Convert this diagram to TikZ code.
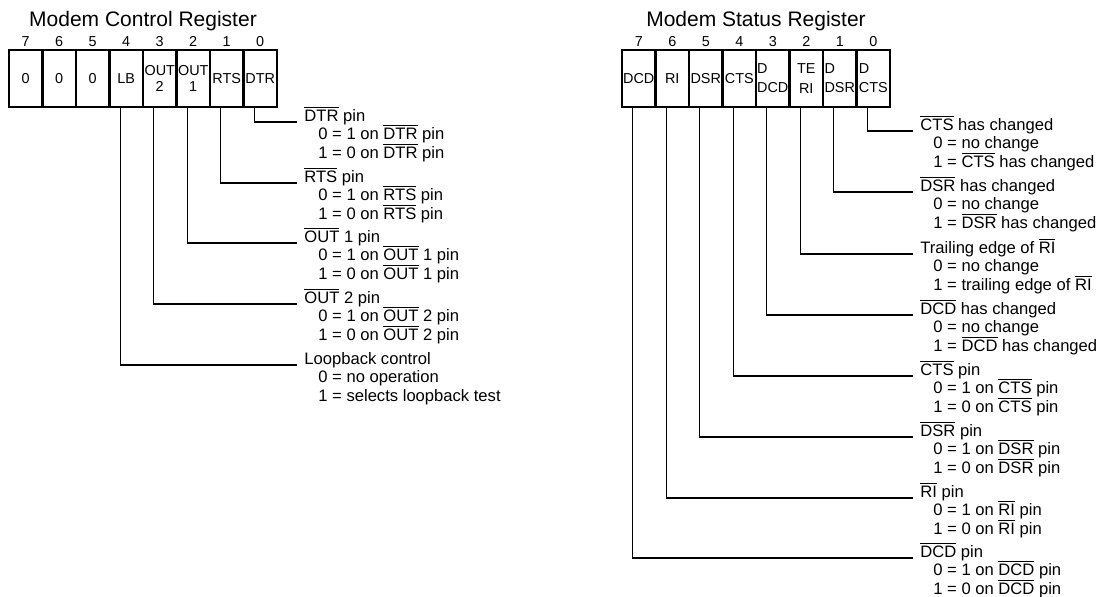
\documentclass[tikz,border=0pt]{standalone}
\usepackage{fontspec}
\setmainfont{Liberation Sans}
\usetikzlibrary{positioning}
\newcommand{\ovl}[1]{$\overline{\mbox{#1}}$}

\tikzset{
  cell/.style={draw, line width=1.3pt, minimum width=16.75pt, minimum height=28.5pt,
    inner sep=0.5pt, outer sep=0pt, align=center, font=\fontsize{7.2}{7.6}\selectfont},
  dcell/.style={cell, align=left, font=\fontsize{7.2}{9.6}\selectfont},
  bitno/.style={inner sep=0pt, font=\fontsize{7.2}{8}\selectfont},
  regtitle/.style={inner sep=0pt, font=\fontsize{10.5}{12}\selectfont},
  head/.style={inner xsep=3.5pt, inner ysep=0pt, font=\fontsize{8.3}{10}\selectfont},
  lead/.style={line width=0.55pt},
}

\begin{document}
\begin{tikzpicture}[x=0.5pt, y=-0.5pt]
\useasboundingbox (0,0) rectangle (1113,597);

% modem control register
\node[cell, anchor=north west] (m7) at (9,50) {0};
\node[cell, right=0pt of m7] (m6) {0};
\node[cell, right=0pt of m6] (m5) {0};
\node[cell, right=0pt of m5] (m4) {LB};
\node[cell, right=0pt of m4] (m3) {OUT\\2};
\node[cell, right=0pt of m3] (m2) {OUT\\1};
\node[cell, right=0pt of m2] (m1) {RTS};
\node[cell, right=0pt of m1] (m0) {DTR};
\foreach \i in {0,...,7}
  \node[bitno, above=1.5pt of m\i] (mb\i) {\i};
\node[regtitle, above=9.5pt of m4.north east] (mcr) {Modem Control Register};

\foreach \bit/\yy/\hd/\za/\zb in {
  0/122/{\ovl{DTR} pin}/{0 = 1 on \ovl{DTR} pin}/{1 = 0 on \ovl{DTR} pin},
  1/183/{\ovl{RTS} pin}/{0 = 1 on \ovl{RTS} pin}/{1 = 0 on \ovl{RTS} pin},
  2/243/{\ovl{OUT} 1 pin}/{0 = 1 on \ovl{OUT} 1 pin}/{1 = 0 on \ovl{OUT} 1 pin},
  3/304/{\ovl{OUT} 2 pin}/{0 = 1 on \ovl{OUT} 2 pin}/{1 = 0 on \ovl{OUT} 2 pin},
  4/365/{Loopback control}/{0 = no operation}/{1 = selects loopback test}}
{
  \node[head, anchor=base west] (mh\bit) at (297,\yy) {\hd};
  \node[head, anchor=base west] (ma\bit) at ([xshift=7pt,yshift=-8.75pt]mh\bit.base west) {\za};
  \node[head, anchor=base west] (mz\bit) at ([xshift=7pt,yshift=-18.25pt]mh\bit.base west) {\zb};
  \draw[lead] ([xshift=-3pt]m\bit.south) |- (mh\bit.base west);
}

% modem status register
\node[cell, anchor=north west] (s7) at (622,50) {DCD};
\node[cell, right=0pt of s7] (s6) {RI};
\node[cell, right=0pt of s6] (s5) {DSR};
\node[cell, right=0pt of s5] (s4) {CTS};
\node[dcell, right=0pt of s4] (s3) {D\\DCD};
\node[cell, font=\fontsize{7.2}{9.6}\selectfont, right=0pt of s3] (s2) {TE\\RI};
\node[dcell, right=0pt of s2] (s1) {D\\DSR};
\node[dcell, right=0pt of s1] (s0) {D\\CTS};
\foreach \i in {0,...,7}
  \node[bitno, above=1.5pt of s\i] (sb\i) {\i};
\node[regtitle, above=9.5pt of s4.north east] (msr) {Modem Status Register};

\foreach \bit/\yy/\hd/\za/\zb in {
  0/131/{\ovl{CTS} has changed}/{0 = no change}/{1 = \ovl{CTS} has changed},
  1/192/{\ovl{DSR} has changed}/{0 = no change}/{1 = \ovl{DSR} has changed},
  2/254/{Trailing edge of \ovl{RI}}/{0 = no change}/{1 = trailing edge of \ovl{RI}},
  3/315/{\ovl{DCD} has changed}/{0 = no change}/{1 = \ovl{DCD} has changed},
  4/376/{\ovl{CTS} pin}/{0 = 1 on \ovl{CTS} pin}/{1 = 0 on \ovl{CTS} pin},
  5/437/{\ovl{DSR} pin}/{0 = 1 on \ovl{DSR} pin}/{1 = 0 on \ovl{DSR} pin},
  6/498/{\ovl{RI} pin}/{0 = 1 on \ovl{RI} pin}/{1 = 0 on \ovl{RI} pin},
  7/558/{\ovl{DCD} pin}/{0 = 1 on \ovl{DCD} pin}/{1 = 0 on \ovl{DCD} pin}}
{
  \node[head, anchor=base west] (sh\bit) at (913,\yy) {\hd};
  \node[head, anchor=base west] (sa\bit) at ([xshift=6.5pt,yshift=-8.75pt]sh\bit.base west) {\za};
  \node[head, anchor=base west] (sz\bit) at ([xshift=6.5pt,yshift=-18.25pt]sh\bit.base west) {\zb};
  \draw[lead] ([xshift=-3pt]s\bit.south) |- (sh\bit.base west);
}
\end{tikzpicture}
\end{document}
